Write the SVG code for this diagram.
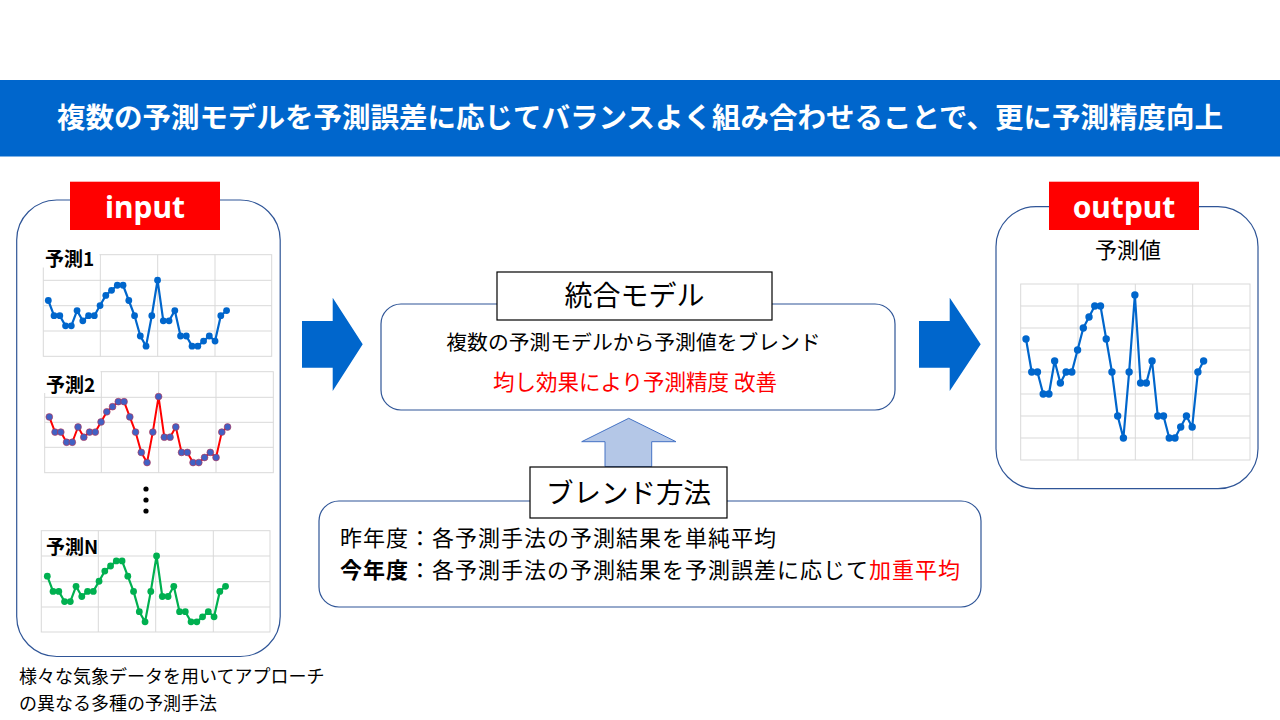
<svg xmlns="http://www.w3.org/2000/svg" width="1280" height="720" viewBox="0 0 1280 720">
<defs>
<style>
.jp{font-family:"Noto Sans CJK JP","Noto Sans",sans-serif;fill:#000}
.lat{font-family:"Noto Sans","Liberation Sans",sans-serif;font-weight:bold;fill:#fff}
.box{fill:#fff;stroke:#2f5597;stroke-width:1.2}
.tbox{fill:#fff;stroke:#000;stroke-width:1.2}
.grid{fill:none;stroke:#d9d9d9;stroke-width:1}
.bl{fill:none;stroke:#0066cc;stroke-width:2.2;stroke-linejoin:round}
.rd{fill:none;stroke:#ff0000;stroke-width:2;stroke-linejoin:round}
.gr{fill:none;stroke:#00b050;stroke-width:2.2;stroke-linejoin:round}
.arr{fill:#0066cc}
.lbl{font-family:"Noto Sans CJK JP","Noto Sans",sans-serif;font-weight:bold;font-size:19px;fill:#000}
</style>
<marker id="mb" markerUnits="userSpaceOnUse" markerWidth="10" markerHeight="10" refX="5" refY="5"><circle cx="5" cy="5" r="3.4" fill="#0066cc"/></marker>
<marker id="mr" markerUnits="userSpaceOnUse" markerWidth="10" markerHeight="10" refX="5" refY="5"><circle cx="5" cy="5" r="3.4" fill="#4161c4" stroke="#c0304a" stroke-width="0.6"/></marker>
<marker id="mg" markerUnits="userSpaceOnUse" markerWidth="10" markerHeight="10" refX="5" refY="5"><circle cx="5" cy="5" r="3.4" fill="#00b050"/></marker>
<marker id="mo" markerUnits="userSpaceOnUse" markerWidth="10" markerHeight="10" refX="5" refY="5"><circle cx="5" cy="5" r="3.7" fill="#0066cc"/></marker>
</defs>
<rect width="1280" height="720" fill="#fff"/>

<g id="header">
<rect x="0" y="80" width="1280" height="76.5" fill="#0066cc"/>
<text x="640" y="128" text-anchor="middle" font-family="Noto Sans CJK JP, Noto Sans, sans-serif" font-weight="bold" font-size="28.5" fill="#fff">複数の予測モデルを予測誤差に応じてバランスよく組み合わせることで、更に予測精度向上</text>
</g>

<g id="input">
<rect class="box" x="16.7" y="200" width="263.5" height="456.5" rx="40"/>
<rect x="70" y="181.7" width="150" height="48.3" fill="#ff0000"/>
<text class="lat" x="145" y="218" text-anchor="middle" font-size="30">input</text>

<g id="chart1">
<rect class="grid" x="43.3" y="254.7" width="228.4" height="101.6"/>
<path class="grid" d="M43.3,280.3H271.7M43.3,305.7H271.7M43.3,331H271.7M100.3,254.7V356.3M157.7,254.7V356.3M215,254.7V356.3"/>
<rect x="42" y="248" width="57.5" height="19.5" fill="#fff"/>
<text class="lbl" x="45" y="265.5">予測1</text>
<g transform="translate(48.3,356.3)">
<polyline class="bl" marker-start="url(#mb)" marker-mid="url(#mb)" marker-end="url(#mb)" points="0,-55.8 5.75,-40.6 11.5,-40.6 17.25,-30.45 23,-30.45 28.75,-45.7 34.5,-35.5 40.25,-40.6 46,-40.6 51.75,-50.75 57.5,-60.9 63.25,-66 69,-71.05 74.75,-71.05 80.5,-55.8 86.25,-40.6 92,-20.3 97.75,-10.15 103.5,-40.6 109.25,-76.1 115,-35.5 120.75,-35.5 126.5,-45.7 132.25,-20.3 138,-20.3 143.75,-10.15 149.5,-10.15 155.25,-15.2 161,-20.3 166.75,-15.2 172.5,-40.6 178.25,-45.7"/>
</g>
</g>

<g id="chart2">
<rect class="grid" x="44.7" y="371.7" width="228.6" height="101"/>
<path class="grid" d="M44.7,397.3H273.3M44.7,422.3H273.3M44.7,447.3H273.3M101.3,371.7V472.7M158.7,371.7V472.7M216,371.7V472.7"/>
<rect x="43.5" y="369" width="57" height="24" fill="#fff"/>
<text class="lbl" x="46" y="391.5">予測2</text>
<g transform="translate(49.3,472.7)">
<polyline class="rd" marker-start="url(#mr)" marker-mid="url(#mr)" marker-end="url(#mr)" points="0,-55.8 5.75,-40.6 11.5,-40.6 17.25,-30.45 23,-30.45 28.75,-45.7 34.5,-35.5 40.25,-40.6 46,-40.6 51.75,-50.75 57.5,-60.9 63.25,-66 69,-71.05 74.75,-71.05 80.5,-55.8 86.25,-40.6 92,-20.3 97.75,-10.15 103.5,-40.6 109.25,-76.1 115,-35.5 120.75,-35.5 126.5,-45.7 132.25,-20.3 138,-20.3 143.75,-10.15 149.5,-10.15 155.25,-15.2 161,-20.3 166.75,-15.2 172.5,-40.6 178.25,-45.7"/>
</g>
</g>

<g id="dots">
<circle cx="146" cy="489" r="2.6" fill="#000"/>
<circle cx="146" cy="500" r="2.6" fill="#000"/>
<circle cx="146" cy="511" r="2.6" fill="#000"/>
</g>

<g id="chart3">
<rect class="grid" x="41.3" y="530.7" width="228.7" height="101.3"/>
<path class="grid" d="M41.3,556H270M41.3,581.7H270M41.3,607H270M98.3,530.7V632M155.7,530.7V632M213.3,530.7V632"/>
<text class="lbl" x="46" y="554">予測N</text>
<g transform="translate(47.3,632)">
<polyline class="gr" marker-start="url(#mg)" marker-mid="url(#mg)" marker-end="url(#mg)" points="0,-55.8 5.75,-40.6 11.5,-40.6 17.25,-30.45 23,-30.45 28.75,-45.7 34.5,-35.5 40.25,-40.6 46,-40.6 51.75,-50.75 57.5,-60.9 63.25,-66 69,-71.05 74.75,-71.05 80.5,-55.8 86.25,-40.6 92,-20.3 97.75,-10.15 103.5,-40.6 109.25,-76.1 115,-35.5 120.75,-35.5 126.5,-45.7 132.25,-20.3 138,-20.3 143.75,-10.15 149.5,-10.15 155.25,-15.2 161,-20.3 166.75,-15.2 172.5,-40.6 178.25,-45.7"/>
</g>
</g>
</g>

<g id="input-caption">
<text class="jp" x="19" y="683" font-size="18">様々な気象データを用いてアプローチ</text>
<text class="jp" x="19" y="710" font-size="18">の異なる多種の予測手法</text>
</g>

<g id="connectors">
<path class="arr" d="M302,321H332.7V297.7L362.7,344.3L332.7,391V367.7H302Z"/>
<path class="arr" d="M919,321H949.7V297.7L980.7,344.3L949.7,391V367.7H919Z"/>
<path d="M605,466.7V441.7H581.7L628.7,418.3L676,441.7H651.7V466.7Z" fill="#b4c7e7" stroke="#4472c4" stroke-width="1"/>
</g>

<g id="model">
<rect class="box" x="381" y="304" width="514" height="106" rx="20"/>
<rect class="tbox" x="497" y="272" width="275" height="48"/>
<text class="jp" x="634.5" y="306" text-anchor="middle" font-size="28">統合モデル</text>
<text class="jp" x="633.5" y="350" text-anchor="middle" font-size="20.8">複数の予測モデルから予測値をブレンド</text>
<text class="jp" x="635" y="390" text-anchor="middle" font-size="21.5" style="fill:#ff0000">均し効果により予測精度 改善</text>
</g>

<g id="blend">
<rect class="box" x="319" y="501" width="662" height="106" rx="20"/>
<rect class="tbox" x="530" y="467" width="197" height="51"/>
<text class="jp" x="628.5" y="503" text-anchor="middle" font-size="27.5">ブレンド方法</text>
<text class="jp" x="340" y="546" font-size="22" letter-spacing="1">昨年度：各予測手法の予測結果を単純平均</text>
<text class="jp" x="340" y="578" font-size="22" letter-spacing="1"><tspan font-weight="bold">今年度</tspan>：各予測手法の予測結果を予測誤差に応じて<tspan style="fill:#ff0000">加重平均</tspan></text>
</g>

<g id="output">
<rect class="box" x="996" y="206.7" width="262" height="282" rx="40"/>
<rect x="1049" y="181.7" width="150" height="48.3" fill="#ff0000"/>
<text class="lat" x="1124" y="218" text-anchor="middle" font-size="30">output</text>
<text class="jp" x="1128" y="258" text-anchor="middle" font-size="22">予測値</text>
<g id="chart-out">
<rect class="grid" x="1020.7" y="284" width="229.3" height="176"/>
<path class="grid" d="M1020.7,306H1250M1020.7,328H1250M1020.7,350H1250M1020.7,372H1250M1020.7,394H1250M1020.7,416H1250M1020.7,438H1250M1078,284V460M1135.3,284V460M1192.7,284V460"/>
<g transform="translate(1026,460)">
<polyline class="bl" marker-start="url(#mo)" marker-mid="url(#mo)" marker-end="url(#mo)" points="0,-121 5.73,-88 11.46,-88 17.19,-66 22.92,-66 28.65,-99 34.38,-77 40.11,-88 45.84,-88 51.57,-110 57.3,-132 63.03,-143 68.76,-154 74.49,-154 80.22,-121 85.95,-88 91.68,-44 97.41,-22 103.14,-88 108.87,-165 114.6,-77 120.33,-77 126.06,-99 131.79,-44 137.52,-44 143.25,-22 148.98,-22 154.71,-33 160.44,-44 166.17,-33 171.9,-88 177.63,-99"/>
</g>
</g>
</g>
</svg>
